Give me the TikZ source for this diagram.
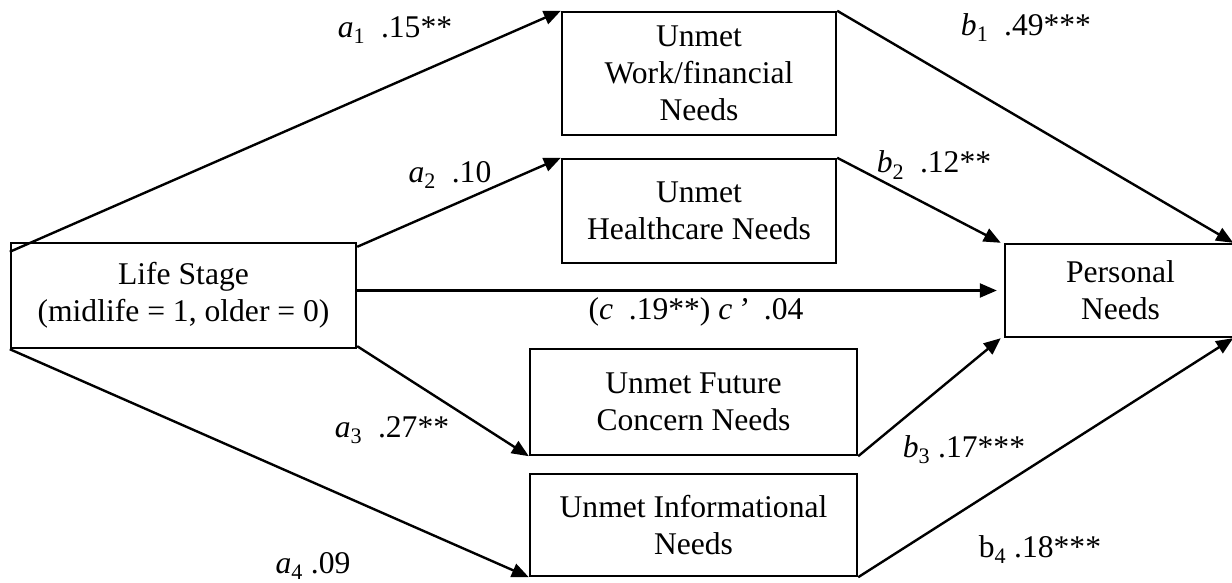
\documentclass[tikz,border=0pt]{standalone}
\usepackage{fontspec}
\setmainfont{Liberation Serif}
\usetikzlibrary{arrows.meta}

\begin{document}
\begin{tikzpicture}[x=1pt, y=-1pt,
  every node/.style={font=\fontsize{31.6pt}{37pt}\selectfont},
  box/.style={draw, line width=2.4pt, inner sep=0pt, align=center, rectangle},
  path/.style={line width=2.4pt, -{Triangle[length=17pt,width=14pt]}},
  coef/.style={inner sep=0pt, anchor=center}]

\useasboundingbox (0,0) rectangle (1232,583);
\clip (0,0) rectangle (1232,583);

% variables
\node[box, minimum width=345pt, minimum height=105pt] (LS) at (183.5,295.5)
  {Life Stage\\(midlife = 1, older = 0)};
\node[box, minimum width=274pt, minimum height=123pt] (W) at (699,73.5)
  {Unmet\\Work/financial\\Needs};
\node[box, minimum width=274pt, minimum height=104pt] (H) at (699,211)
  {Unmet\\Healthcare Needs};
\node[box, minimum width=327pt, minimum height=106pt] (F) at (693.5,402)
  {Unmet Future\\Concern Needs};
\node[box, minimum width=327pt, minimum height=102pt] (I) at (693.5,525)
  {Unmet Informational\\Needs};
\node[box, minimum width=231pt, minimum height=93pt] (P) at (1120.5,290.5)
  {Personal\\Needs};

% a paths
\draw[path] ([yshift=-10pt]LS.north west) -- (W.north west);
\draw[path] ([yshift=-5pt]LS.north east) -- (H.north west);
\draw[path] ([yshift=3pt]LS.south east) -- (F.south west);
\draw[path] (LS.south west) -- (I.south west);

% direct path
\draw[path] (LS.east |- P.west) -- ([xshift=-7pt]P.west);

% b paths
\draw[path] (W.north east) -- ([xshift=-4pt]P.north east);
\draw[path] (H.north east) -- ([xshift=-3pt]P.north west);
\draw[path] (F.south east) -- ([xshift=-3pt]P.south west);
\draw[path] (I.south east) -- ([xshift=-4pt]P.south east);

% coefficients
\node[coef] (la1) at (395,30) {\textit{a}\textsubscript{1}\ \ .15**};
\node[coef] (la2) at (450,175) {\textit{a}\textsubscript{2}\ \ .10};
\node[coef] (la3) at (392,430) {\textit{a}\textsubscript{3}\ \ .27**};
\node[coef] (la4) at (313,566) {\textit{a}\textsubscript{4} .09};
\node[coef] (lb1) at (1026,28) {\textit{b}\textsubscript{1}\ \ .49***};
\node[coef] (lb2) at (934,165) {\textit{b}\textsubscript{2}\ \ .12**};
\node[coef] (lb3) at (964,450) {\textit{b}\textsubscript{3} .17***};
\node[coef] (lb4) at (1040,550) {b\textsubscript{4} .18***};
\node[coef] (lc) at (696,312) {(\textit{c}\ \ .19**) \textit{c}\,\textit{’}\ \ .04};

\end{tikzpicture}
\end{document}
